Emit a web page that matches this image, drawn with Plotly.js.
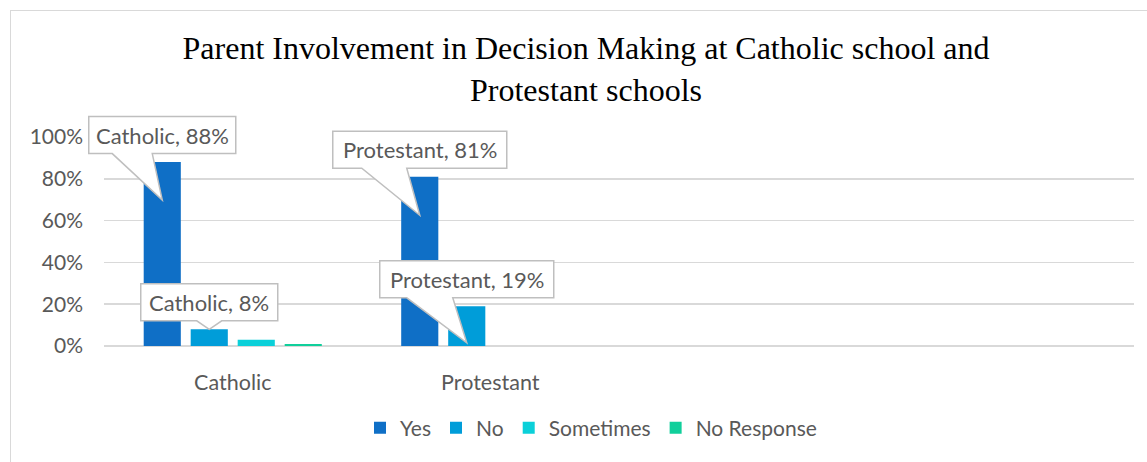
<!DOCTYPE html>
<html>
<head>
<meta charset="utf-8">
<script src="https://cdn.plot.ly/plotly-3.0.1.min.js"></script>
<style>
  html, body { margin: 0; padding: 0; overflow: hidden; background: #fff; }
  #chart { position: absolute; left: 0; top: 0; width: 1147px; height: 462px; }
  #frame { position: absolute; left: 10px; top: 10px; width: 1200px; height: 500px;
           border: 1.5px solid #D9D9D9; pointer-events: none; }
</style>
</head>
<body>
<div id="chart"></div>
<div id="frame"></div>
<script>
// ---- data ----
const categories = ['Catholic', 'Protestant'];
const seriesNames = ['Yes', 'No', 'Sometimes', 'No Response'];
const yesValues = [0.88, 0.81];
const noValues = [0.08, 0.19];
const sometimesValues = [0.03, 0];
const noResponseValues = [0.01, 0];
const seriesColors = ['#0F6FC6', '#009DD9', '#0BD0D9', '#10CF9B'];
const yTickVals = [0, 0.2, 0.4, 0.6, 0.8, 1.0];
const yTickText = ['0%', '20%', '40%', '60%', '80%', '100%'];
const titleText = 'Parent Involvement in Decision Making at Catholic school and<br>Protestant schools';

// callouts: which series / category carries a data-label callout
const calloutSeries = [0, 0, 1, 1];
const calloutCats   = [0, 1, 0, 1];
// callout styling (pixels): half width of box, tip depth below bar top, wedge base left/right
const calloutHalfW = [73.5, 87, 68.5, 87];
const calloutTip   = [38, 38.5, 0, 36.5];
const calloutBaseL = [-50, -58, -12.5, -60];
const calloutBaseR = [-10, -13, 12.5, -14];

const allValues = [yesValues, noValues, sometimesValues, noResponseValues];

const bargap = 0.27, bargroupgap = 0.21;
const nSeries = seriesNames.length;
const slot = (1 - bargap) / nSeries;
const xRange = [-0.5, 3.5];
const yRange = [0, 1];

const font = 'Lato, "Open Sans", sans-serif';
const grey = '#595959';

const traces = seriesNames.map((name, i) => ({
  type: 'bar',
  name: name,
  x: categories,
  y: allValues[i],
  marker: { color: seriesColors[i], line: { width: 0 } },
  hoverinfo: 'none'
}));

const shapes = [];
const annotations = [];
const boxCy = 27, boxHh = 18.5;
for (let k = 0; k < calloutSeries.length; k++) {
  const s = calloutSeries[k], c = calloutCats[k];
  const v = allValues[s][c];
  const xPos = c + (s - (nSeries - 1) / 2) * slot;
  // convert axis values to paper fractions (axis spans whole domain)
  const px = (xPos - xRange[0]) / (xRange[1] - xRange[0]);
  const py = (v - yRange[0]) / (yRange[1] - yRange[0]);
  const hw = calloutHalfW[k];
  const top = boxCy + boxHh, bot = boxCy - boxHh;
  const path = `M ${-hw},${top} L ${hw},${top} L ${hw},${bot} L ${calloutBaseR[k]},${bot} ` +
               `L 0,${-calloutTip[k]} L ${calloutBaseL[k]},${bot} L ${-hw},${bot} Z`;
  shapes.push({
    type: 'path', xref: 'paper', yref: 'paper', xsizemode: 'pixel', ysizemode: 'pixel',
    xanchor: px, yanchor: py, path: path,
    fillcolor: '#FFFFFF', line: { color: '#BFBFBF', width: 1.5 }, layer: 'above'
  });
  annotations.push({
    xref: 'x', yref: 'y', x: xPos, y: v, yshift: boxCy, showarrow: false,
    xanchor: 'center', yanchor: 'middle',
    text: categories[c] + ', ' + Math.round(v * 100) + '%',
    font: { family: font, size: 22, color: grey }
  });
}

const layout = {
  width: 1147, height: 462,
  margin: { l: 104, r: 13, t: 137, b: 116 },
  paper_bgcolor: '#FFFFFF', plot_bgcolor: '#FFFFFF',
  barmode: 'group', bargap: bargap, bargroupgap: bargroupgap,
  title: {
    text: titleText,
    font: { family: '"Liberation Serif", "Times New Roman", serif', size: 32, color: '#000000' },
    xref: 'container', yref: 'container', x: 586 / 1147, xanchor: 'center',
    y: 1 - 59 / 462, yanchor: 'top'
  },
  xaxis: {
    type: 'category', range: xRange, showgrid: false, zeroline: false,
    showline: false, ticks: '', tickfont: { family: font, size: 21.5, color: grey },
    ticklabelstandoff: 21, fixedrange: true
  },
  yaxis: {
    range: yRange, tickvals: yTickVals, ticktext: yTickText,
    showgrid: true, gridcolor: '#D9D9D9', gridwidth: 1.5,
    zeroline: true, zerolinecolor: '#D9D9D9', zerolinewidth: 1.5,
    showline: false, ticks: '', tickfont: { family: font, size: 21, color: grey },
    ticklabelstandoff: 20, fixedrange: true
  },
  legend: {
    orientation: 'h', xref: 'container', yref: 'container',
    x: 591 / 1147, xanchor: 'center', y: 1 - 428 / 462, yanchor: 'middle',
    itemwidth: 30,
    font: { family: font, size: 21, color: grey }, itemclick: false
  },
  shapes: shapes,
  annotations: annotations,
  showlegend: true
};

Plotly.newPlot('chart', traces, layout, { staticPlot: true, displayModeBar: false });
</script>
</body>
</html>
